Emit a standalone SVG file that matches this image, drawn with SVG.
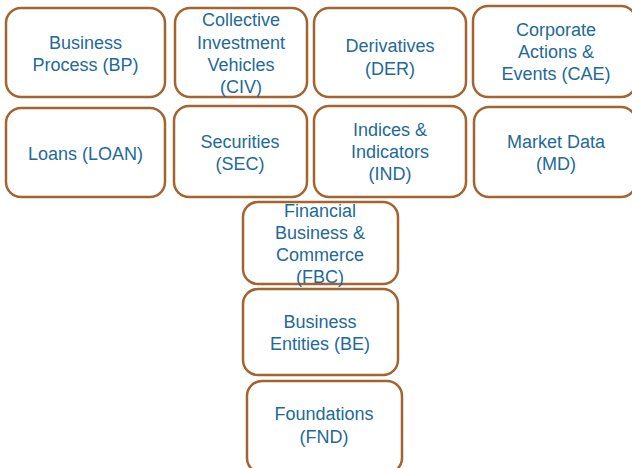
<svg xmlns="http://www.w3.org/2000/svg" width="632" height="468" viewBox="0 0 632 468">
<style>
.box{fill:#ffffff;stroke:#a5632f;stroke-width:2.5}
.t{font-family:"Liberation Sans",Arial,sans-serif;font-size:18px;fill:#22699a;text-anchor:middle}
</style>
<rect width="632" height="468" fill="#ffffff"/>
<g id="BP"><rect class="box" x="6" y="8" width="159" height="89" rx="15"/><text class="t" x="85.5"><tspan x="85.5" y="49">Business</tspan><tspan x="85.5" y="71">Process (BP)</tspan></text></g>
<g id="CIV"><rect class="box" x="175" y="8" width="132" height="89" rx="15"/><text class="t"><tspan x="241" y="26">Collective</tspan><tspan x="241" y="49">Investment</tspan><tspan x="241" y="71">Vehicles</tspan><tspan x="241" y="93">(CIV)</tspan></text></g>
<g id="DER"><rect class="box" x="314" y="8" width="152" height="89" rx="15"/><text class="t"><tspan x="390" y="52">Derivatives</tspan><tspan x="390" y="75">(DER)</tspan></text></g>
<g id="CAE"><rect class="box" x="473" y="6" width="163" height="91" rx="15"/><text class="t"><tspan x="556" y="36">Corporate</tspan><tspan x="556" y="58">Actions &amp;</tspan><tspan x="556" y="80">Events (CAE)</tspan></text></g>
<g id="LOAN"><rect class="box" x="6" y="108" width="159" height="89" rx="15"/><text class="t" x="85.5" y="160">Loans (LOAN)</text></g>
<g id="SEC"><rect class="box" x="174" y="106" width="133" height="91" rx="15"/><text class="t"><tspan x="240" y="148">Securities</tspan><tspan x="240" y="170">(SEC)</tspan></text></g>
<g id="IND"><rect class="box" x="314" y="106" width="152" height="91" rx="15"/><text class="t"><tspan x="390" y="136">Indices &amp;</tspan><tspan x="390" y="158">Indicators</tspan><tspan x="390" y="180">(IND)</tspan></text></g>
<g id="MD"><rect class="box" x="474" y="107" width="162" height="90" rx="15"/><text class="t"><tspan x="556" y="148">Market Data</tspan><tspan x="556" y="170">(MD)</tspan></text></g>
<g id="FBC"><rect class="box" x="243" y="202" width="155" height="82" rx="15"/><text class="t"><tspan x="320" y="217">Financial</tspan><tspan x="320" y="239">Business &amp;</tspan><tspan x="320" y="261">Commerce</tspan><tspan x="320" y="283">(FBC)</tspan></text></g>
<g id="BE"><rect class="box" x="243" y="289" width="155" height="86" rx="15"/><text class="t"><tspan x="320" y="328">Business</tspan><tspan x="320" y="350">Entities (BE)</tspan></text></g>
<g id="FND"><rect class="box" x="247" y="381" width="155" height="92" rx="15"/><text class="t"><tspan x="324" y="420">Foundations</tspan><tspan x="324" y="443">(FND)</tspan></text></g>
<g id="connectors"></g>
</svg>
